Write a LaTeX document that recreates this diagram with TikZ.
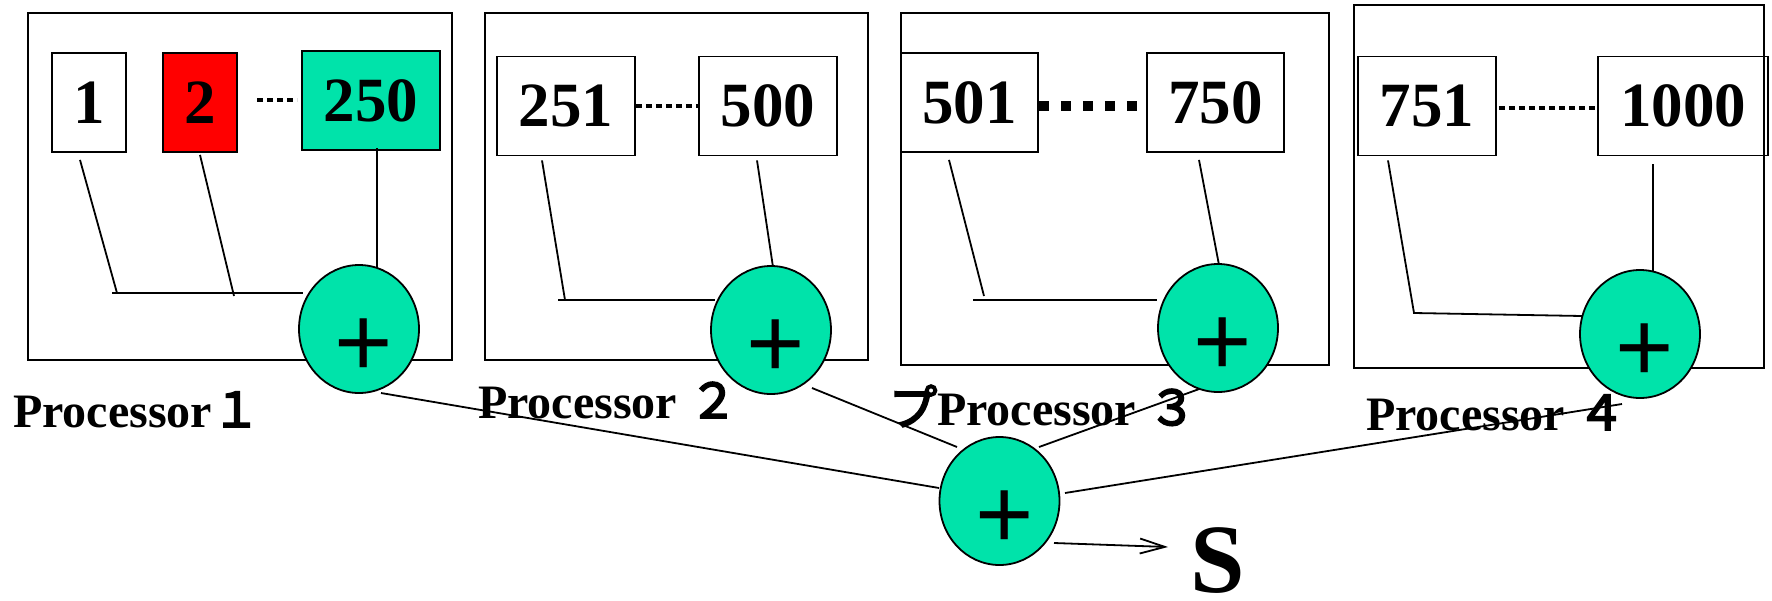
\documentclass[tikz,border=0pt]{standalone}
\usepackage{fontspec}
\setmainfont{Liberation Serif}
\newfontfamily\cjk[FakeBold=4]{Noto Sans CJK JP}
\newfontfamily\plusfont{Liberation Sans}
\usetikzlibrary{arrows.meta,shapes.geometric,calc}
\definecolor{sumgreen}{RGB}{0,227,170}
\definecolor{boxred}{RGB}{255,0,0}
\tikzset{
  frame/.style={draw, line width=1.8pt, inner sep=0pt},
  numbox/.style={draw, line width=1.8pt, inner sep=0pt, minimum height=99pt, font=\fontsize{63}{63}\selectfont\bfseries},
  sumnode/.style={ellipse, draw, line width=1.8pt, fill=sumgreen, minimum width=120pt, minimum height=128pt, inner sep=0pt},
  plussign/.style={inner sep=0pt, font=\plusfont\fontsize{100}{100}\selectfont},
  conn/.style={line width=1.8pt},
  proclabel/.style={anchor=base west, inner sep=0pt, font=\fontsize{48}{48}\selectfont\bfseries},
  dotsA/.style={line width=4pt, dash pattern=on 6pt off 4pt},
  dotsB/.style={line width=4pt, dash pattern=on 6pt off 4pt},
  dotsC/.style={line width=10pt, dash pattern=on 10pt off 12pt},
}
\begin{document}
\begin{tikzpicture}[x=1pt,y=-1pt]
\useasboundingbox (0,0) rectangle (1772,600);
% processor frames
\node[frame, minimum width=424pt, minimum height=347pt] (p1) at (240,186.5) {};
\node[frame, minimum width=383pt, minimum height=347pt] (p2) at (676.5,186.5) {};
\node[frame, minimum width=428pt, minimum height=352pt] (p3) at (1115,189) {};
\node[frame, minimum width=410pt, minimum height=363pt] (p4) at (1559,186.5) {};
% number boxes
\node[numbox, minimum width=74pt] (n1) at (89,102.5) {1};
\node[numbox, minimum width=74pt, fill=boxred] (n2) at (200,102.5) {2};
\node[numbox, minimum width=138pt, fill=sumgreen] (n250) at (371,100.5) {250};
\node[numbox, minimum width=138pt] (n251) at (566,106) {251};
\node[numbox, minimum width=138pt] (n500) at (768,106) {500};
\node[numbox, minimum width=137pt] (n501) at (969.5,102.5) {501};
\node[numbox, minimum width=137pt] (n750) at (1215.5,102.5) {750};
\node[numbox, minimum width=138pt] (n751) at (1427,106) {751};
\node[numbox, minimum width=170pt] (n1000) at (1683,106) {1000};
% dotted links
\coordinate (d1a) at (257,100);
\coordinate (d1b) at (297,100);
\draw[dotsA] (d1a) -- (d1b);
\draw[dotsB] (n251.east) -- (n500.west);
\draw[dotsC] ($(n501.east)+(0,3.5)$) -- ($(n750.west)+(0,3.5)$);
\draw[dotsB] ($(n751.east)+(2,2)$) -- ($(n1000.west)+(0,2)$);
% labels
\node[proclabel] (l1) at (13,427) {Processor{\cjk\mdseries １}};
\node[proclabel] (l2) at (478,418) {Processor {\cjk\mdseries ２}};
\node[proclabel] (l3) at (889,425) {{\cjk\mdseries プ}Processor {\cjk\mdseries ３}};
\node[proclabel] (l4) at (1366,430) {Processor {\cjk\mdseries ４}};
% circle positions
\coordinate (c1p) at (359,329);
\coordinate (c2p) at (771,330);
\coordinate (c3p) at (1218,328);
\coordinate (c4p) at (1640,334);
\coordinate (csp) at (999.5,501);
% processor 1 wiring
\coordinate (k1) at (117,293);
\coordinate (k2) at (234,296);
\coordinate (h1s) at (112,293);
\coordinate (h1e) at (303,293);
\draw[conn] ($(n1.south)+(-9,7)$) -- (k1);
\draw[conn] ($(n2.south)+(0,2)$) -- (k2);
\draw[conn] (h1s) -- (h1e);
\draw[conn] ($(n250.south)+(6,-3)$) -- ($(c1p)+(18,-60)$);
% processor 2 wiring
\coordinate (k3) at (565,300);
\coordinate (h2s) at (558,300);
\coordinate (h2e) at (715,300);
\draw[conn] ($(n251.south)+(-24,4)$) -- (k3);
\draw[conn] (h2s) -- (h2e);
\draw[conn] ($(n500.south)+(-11,4)$) -- ($(c2p)+(2,-63)$);
% processor 3 wiring
\coordinate (k4) at (984,296);
\coordinate (h3s) at (973,300);
\coordinate (h3e) at (1157,300);
\draw[conn] ($(n501.south)+(-20.5,7)$) -- (k4);
\draw[conn] (h3s) -- (h3e);
\draw[conn] ($(n750.south)+(-16.5,7)$) -- ($(c3p)+(1,-63)$);
% processor 4 wiring
\coordinate (k5) at (1414,313);
\coordinate (h4e) at (1582,316);
\draw[conn] ($(n751.south)+(-39,4)$) -- (k5) -- (h4e);
\draw[conn] ($(n1000.south)+(-30,8)$) -- ($(c4p)+(13,-63)$);
% lines to final sum
\coordinate (c4out) at (1622,404);
\draw[conn] ($(c1p)+(22,64)$) -- ($(csp)+(-60.5,-13)$);
\draw[conn] ($(c2p)+(41,58)$) -- ($(csp)+(-42.5,-54)$);
\draw[conn] ($(c3p)+(-16,60)$) -- ($(csp)+(39.5,-54)$);
\draw[conn] (c4out) -- ($(csp)+(65.5,-8)$);
% sum nodes
\node[sumnode] (c1) at (c1p) {};
\node[sumnode] (c2) at (c2p) {};
\node[sumnode] (c3) at (c3p) {};
\node[sumnode] (c4) at (c4p) {};
\node[sumnode] (cs) at (csp) {};
\node[plussign] (q1) at ($(c1.center)+(5,19)$) {+};
\node[plussign] (q2) at ($(c2.center)+(5,19)$) {+};
\node[plussign] (q3) at ($(c3.center)+(5,19)$) {+};
\node[plussign] (q4) at ($(c4.center)+(5,19)$) {+};
\node[plussign] (qs) at ($(cs.center)+(5,19)$) {+};
% result
\coordinate (sEnd) at (1168,547);
\draw[conn, -{Straight Barb[length=25pt,width=15pt,line width=1.8pt]}] ($(cs.center)+(54.5,42)$) -- (sEnd);
\node[anchor=base west, inner sep=0pt, font=\fontsize{98}{98}\selectfont\bfseries] (S) at (1190,592) {S};
\end{tikzpicture}
\end{document}
